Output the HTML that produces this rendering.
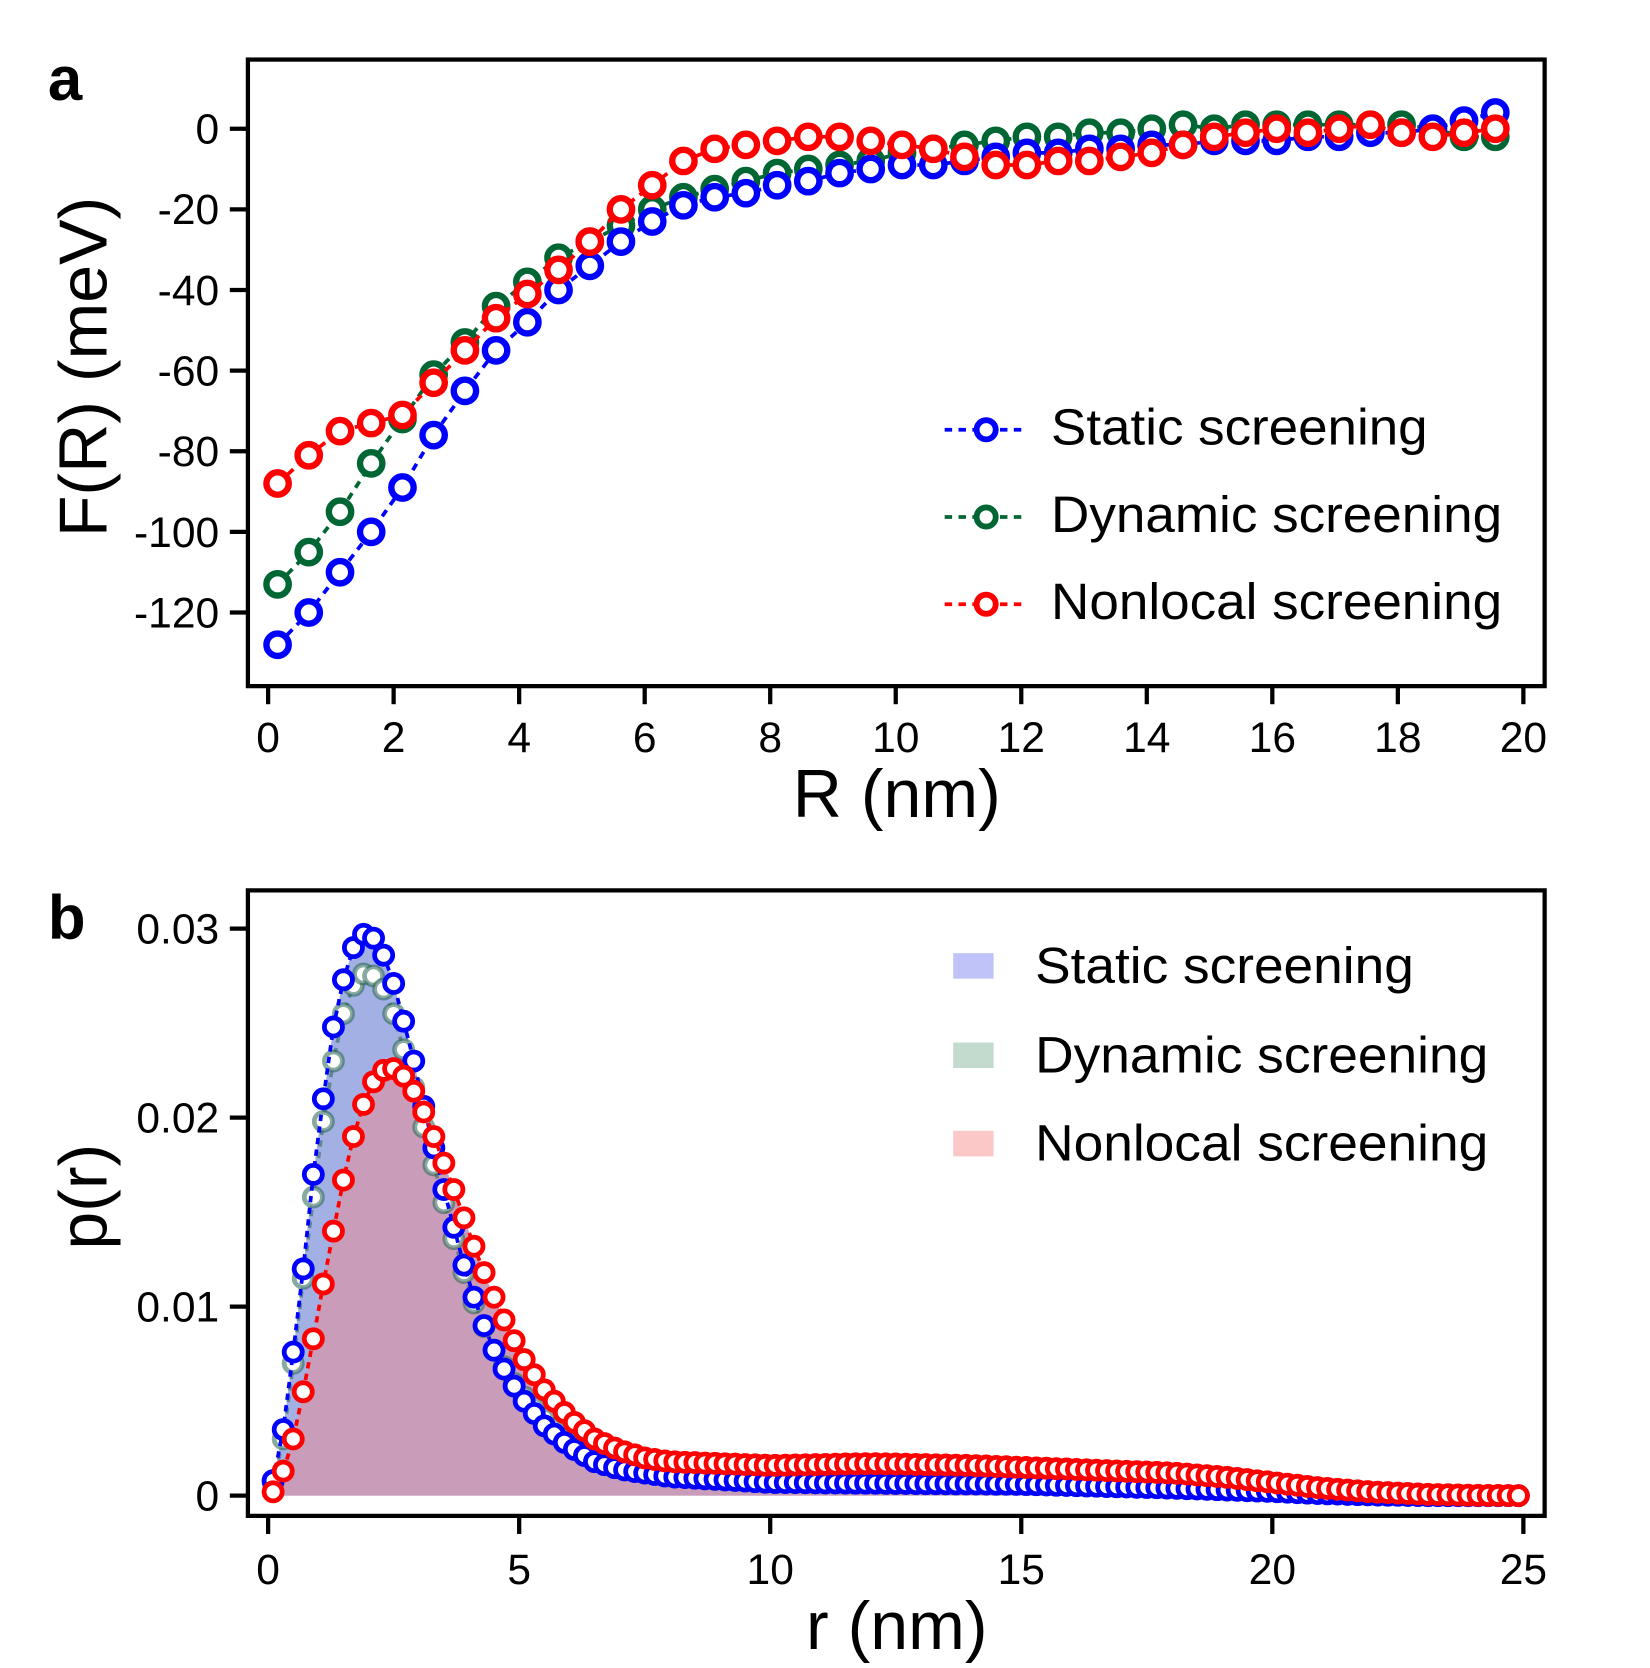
<!DOCTYPE html>
<html><head><meta charset="utf-8"><style>
html,body{margin:0;padding:0;background:#fff;}
svg{display:block;font-family:"Liberation Sans",Arial,sans-serif;}
</style></head><body>
<svg id="s" width="1650" height="1668" viewBox="0 0 1551 1568" xmlns="http://www.w3.org/2000/svg">
<rect width="1551" height="1568" fill="#fff"/>
<g id="g"></g>
</svg>
<script>
const g=document.getElementById('g');
let out='';
const ax=R=>252+59*R, ay=F=>121-3.79*F;
const Ra=[];for(let k=0;k<40;k++)Ra.push(0.15+0.4975*k);
const blue=[-128,-120,-110,-100,-89,-76,-65,-55,-48,-40,-34,-28,-23,-19,-17,-16,-14,-13,-11,-10,-9,-9,-8,-7,-6,-6,-5,-5,-4,-4,-3,-3,-3,-2,-2,-1,-1,0,2,4];
const green=[-113,-105,-95,-83,-72,-61,-53,-44,-38,-32,-28,-24,-20,-17,-15,-13,-11,-10,-9,-8,-6,-5,-4,-3,-2,-2,-1,-1,0,1,0,1,1,1,1,1,1,0,-2,-2];
const red=[-88,-81,-75,-73,-71,-63,-55,-47,-41,-35,-28,-20,-14,-8,-5,-4,-3,-2,-2,-3,-4,-5,-7,-9,-9,-8,-8,-7,-6,-4,-2,-1,0,-1,0,1,-1,-2,-1,0];
function series(xs,ys,fx,fy,col,r,sw,dash,lw){
  let pts=xs.map((x,i)=>fx(x).toFixed(1)+','+fy(ys[i]).toFixed(1)).join(' ');
  let s=`<polyline points="${pts}" fill="none" stroke="${col}" stroke-width="${lw}" stroke-dasharray="${dash}"/>`;
  xs.forEach((x,i)=>{s+=`<circle cx="${fx(x).toFixed(1)}" cy="${fy(ys[i]).toFixed(1)}" r="${r}" fill="#fff" stroke="${col}" stroke-width="${sw}"/>`;});
  return s;
}
out+=series(Ra,green,ax,ay,'#006633',10.5,6,'7,6',3.5);
out+=series(Ra,blue,ax,ay,'#0000ff',10.5,6,'7,6',3.5);
out+=series(Ra,red,ax,ay,'#ff0000',10.5,6,'7,6',3.5);
out+=`<rect x="233" y="56" width="1219" height="589" fill="none" stroke="#000" stroke-width="4"/>`;
[0,-20,-40,-60,-80,-100,-120].forEach(v=>{const y=ay(v);out+=`<line x1="216" y1="${y}" x2="233" y2="${y}" stroke="#000" stroke-width="4"/><text x="206" y="${y+14}" font-size="40" text-anchor="end">${v}</text>`;});
for(let v=0;v<=20;v+=2){const x=ax(v);out+=`<line x1="${x}" y1="645" x2="${x}" y2="662" stroke="#000" stroke-width="4"/><text x="${x}" y="707" font-size="40" text-anchor="middle">${v}</text>`;}
out+=`<text x="843" y="768" font-size="64" text-anchor="middle">R (nm)</text>`;
out+=`<text transform="translate(100,345) rotate(-90)" font-size="64" text-anchor="middle">F(R) (meV)</text>`;
out+=`<text x="45" y="94" font-size="58" font-weight="bold">a</text>`;
[['#0000ff','Static screening',401],['#006633','Dynamic screening',483],['#ff0000','Nonlocal screening',565]].forEach(([c,t,y],i)=>{
 out+=`<line x1="888" y1="${y+3}" x2="966" y2="${y+3}" stroke="${c}" stroke-width="3.5" stroke-dasharray="7,6"/><circle cx="927" cy="${y+3}" r="9" fill="#fff" stroke="${c}" stroke-width="5.5"/>`;
 out+=`<text x="988" y="${y+17}" font-size="48" textLength="${[354,424,424][i]}" lengthAdjust="spacingAndGlyphs">${t}</text>`;
});
const bx=r=>252+47.2*r, by=p=>1406-17767*p;
function interp(kn,x){if(x<=kn[0][0])return kn[0][1];for(let i=1;i<kn.length;i++){if(x<=kn[i][0]){const [x0,y0]=kn[i-1],[x1,y1]=kn[i];return y0+(y1-y0)*(x-x0)/(x1-x0);}}return kn[kn.length-1][1];}
const kB=[[0.1,0.0008],[0.3,0.0035],[0.5,0.0076],[0.7,0.012],[0.9,0.017],[1.1,0.021],[1.3,0.0248],[1.5,0.0273],[1.7,0.029],[1.9,0.0297],[2.1,0.0295],[2.3,0.0286],[2.5,0.0271],[2.7,0.0251],[2.9,0.023],[3.1,0.0206],[3.3,0.0184],[3.5,0.0162],[3.7,0.0142],[3.9,0.0122],[4.1,0.0105],[4.3,0.009],[4.5,0.0077],[4.7,0.0067],[4.9,0.0058],[5.1,0.005],[5.5,0.0037],[6,0.0026],[6.5,0.0018],[7,0.0014],[8,0.001],[10,0.0007],[15,0.0006],[18,0.0004],[20,0.00022],[21,0.0001],[22,0.00004],[23,0.0],[25,0]];
const kG=[[0.1,0.0007],[0.3,0.003],[0.5,0.007],[0.7,0.0115],[0.9,0.0158],[1.1,0.0198],[1.3,0.023],[1.5,0.0255],[1.7,0.027],[1.9,0.0276],[2.1,0.0275],[2.3,0.0268],[2.5,0.0255],[2.7,0.0236],[2.9,0.0216],[3.1,0.0195],[3.3,0.0175],[3.5,0.0155],[3.7,0.0136],[3.9,0.0118],[4.1,0.0102],[4.5,0.0077],[5,0.0055],[6,0.0027],[7,0.0015],[8,0.001],[10,0.0007],[15,0.0006],[18,0.0004],[20,0.00022],[22,0.00004],[23,0],[25,0]];
const kR=[[0.1,0.0002],[0.3,0.0013],[0.5,0.003],[0.7,0.0055],[0.9,0.0083],[1.1,0.0112],[1.3,0.014],[1.5,0.0167],[1.7,0.019],[1.9,0.0207],[2.1,0.0219],[2.3,0.0225],[2.5,0.0226],[2.7,0.0222],[2.9,0.0214],[3.1,0.0203],[3.3,0.019],[3.5,0.0176],[3.7,0.0162],[3.9,0.0147],[4.1,0.0132],[4.3,0.0118],[4.5,0.0105],[4.7,0.0093],[4.9,0.0082],[5.1,0.0072],[5.5,0.0056],[6,0.0041],[6.5,0.003],[7,0.0024],[7.5,0.002],[8,0.0018],[10,0.0016],[12,0.0017],[14,0.0016],[16,0.0014],[18,0.0012],[19,0.001],[20,0.0007],[21,0.0004],[22,0.0002],[23,0.00008],[24,0.00002],[25,0]];
const rb=[];for(let k=0;k<125;k++)rb.push(0.1+0.2*k);
const vB=rb.map(r=>interp(kB,r)),vG=rb.map(r=>interp(kG,r)),vR=rb.map(r=>interp(kR,r));
function area(vs,col){let d=`M${bx(rb[0])},${by(0)} `+rb.map((r,i)=>`L${bx(r).toFixed(1)},${by(vs[i]).toFixed(1)}`).join(' ')+` L${bx(rb[124])},${by(0)} Z`;return `<path d="${d}" fill="${col}"/>`;}
out+=area(vB,'#a3b0e4');
out+=area(vR,'#c99db9');
out+=series(rb,vG,bx,by,'rgba(40,100,80,0.55)',8.5,4.5,'6,5',3.5);
out+=series(rb,vB,bx,by,'#0000ff',8.5,4.5,'6,5',3.5);
out+=series(rb,vR,bx,by,'#ff0000',8.5,4.5,'6,5',3.5);
out+=`<rect x="233" y="837" width="1219" height="588" fill="none" stroke="#000" stroke-width="4"/>`;
[[0,'0'],[0.01,'0.01'],[0.02,'0.02'],[0.03,'0.03']].forEach(([v,t])=>{const y=by(v);out+=`<line x1="216" y1="${y}" x2="233" y2="${y}" stroke="#000" stroke-width="4"/><text x="206" y="${y+14}" font-size="40" text-anchor="end">${t}</text>`;});
for(let v=0;v<=25;v+=5){const x=bx(v);out+=`<line x1="${x}" y1="1425" x2="${x}" y2="1442" stroke="#000" stroke-width="4"/><text x="${x}" y="1489" font-size="40" text-anchor="middle">${v}</text>`;}
out+=`<text x="843" y="1550" font-size="64" text-anchor="middle">r (nm)</text>`;
out+=`<text transform="translate(100,1125) rotate(-90)" font-size="64" text-anchor="middle">p(r)</text>`;
out+=`<text x="45" y="882" font-size="58" font-weight="bold">b</text>`;
[['#c0c3f7','Static screening',908],['#c3dace','Dynamic screening',992],['#fcc7c7','Nonlocal screening',1075]].forEach(([c,t,y],i)=>{
 out+=`<rect x="896" y="${y-12}" width="38" height="24" fill="${c}"/>`;
 out+=`<text x="973" y="${y+16}" font-size="48" textLength="${[356,426,426][i]}" lengthAdjust="spacingAndGlyphs">${t}</text>`;
});
g.innerHTML=out;
</script>
</body></html>
